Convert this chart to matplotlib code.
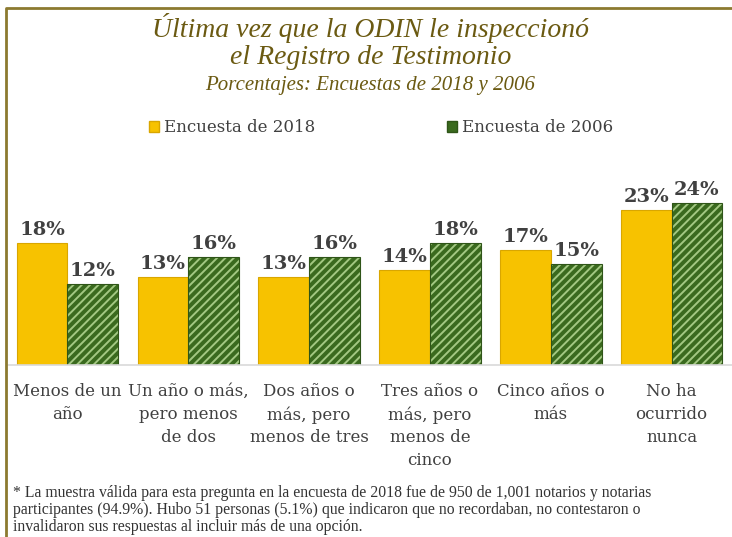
import numpy as np
import matplotlib
matplotlib.use("Agg")
import matplotlib.pyplot as plt
from matplotlib.lines import Line2D
from matplotlib.patches import Patch

categories = [
    "Menos de un\naño",
    "Un año o más,\npero menos\nde dos",
    "Dos años o\nmás, pero\nmenos de tres",
    "Tres años o\nmás, pero\nmenos de\ncinco",
    "Cinco años o\nmás",
    "No ha\nocurrido\nnunca",
]
enc_2018 = [18, 13, 13, 14, 17, 23]
enc_2006 = [12, 16, 16, 18, 15, 24]
series_names = ["Encuesta de 2018", "Encuesta de 2006"]

YELLOW = "#f7c200"
YELLOW_EDGE = "#d9a600"
GREEN = "#3a6a1e"
GREEN_LIGHT = "#a3c882"
TEXT = "#404040"
OLIVE = "#6b5a12"
FRAME = "#8c7a30"

plt.rcParams["hatch.linewidth"] = 1.4

fig = plt.figure(figsize=(7.32, 5.37), dpi=100)
ax = fig.add_axes([7 / 732, 172 / 537, 725 / 732, 200 / 537])

x = np.arange(len(categories))
w = 0.42

ax.bar(x - w / 2, enc_2018, w, color=YELLOW, edgecolor=YELLOW_EDGE, linewidth=0.8)
ax.bar(x + w / 2, enc_2006, w, color=GREEN, edgecolor=GREEN_LIGHT, linewidth=0, hatch="////")
ax.bar(x + w / 2, enc_2006, w, fill=False, edgecolor="#2f5518", linewidth=0.8)

for xi, v in zip(x - w / 2, enc_2018):
    ax.text(xi, v + 0.6, f"{v}%", ha="center", va="bottom", fontsize=14,
            fontweight="bold", color=TEXT, family="DejaVu Serif")
for xi, v in zip(x + w / 2, enc_2006):
    ax.text(xi, v + 0.6, f"{v}%", ha="center", va="bottom", fontsize=14,
            fontweight="bold", color=TEXT, family="DejaVu Serif")

ax.set_xlim(-0.5, len(categories) - 0.5)
ax.set_ylim(0, 29.6)
ax.set_xticks(x)
ax.set_xticklabels(categories, fontsize=12, color=TEXT, family="DejaVu Serif",
                   linespacing=1.45)
ax.tick_params(axis="x", length=0, pad=13)
ax.set_yticks([])
for s in ["top", "right", "left"]:
    ax.spines[s].set_visible(False)
ax.spines["bottom"].set_color("#d9d9d9")
ax.spines["bottom"].set_linewidth(1.2)

# titles
fig.text(0.506, 1 - 28 / 537, "Última vez que la ODIN le inspeccionó", ha="center",
         va="center", fontsize=20, style="italic", color=OLIVE, family="Liberation Serif")
fig.text(0.506, 1 - 58 / 537, "el Registro de Testimonio", ha="center",
         va="center", fontsize=20, style="italic", color=OLIVE, family="Liberation Serif")
fig.text(0.506, 1 - 86 / 537, "Porcentajes: Encuestas de 2018 y 2006", ha="center",
         va="center", fontsize=15, style="italic", color=OLIVE, family="Liberation Serif")

# legend
handles = [Patch(facecolor=YELLOW, edgecolor=YELLOW_EDGE),
           Patch(facecolor=GREEN, edgecolor="#2f5518")]
fig.legend(handles, series_names, loc="center", bbox_to_anchor=(0.52, 1 - 128 / 537),
           ncol=2, frameon=False, handlelength=0.6, handleheight=0.6, handletextpad=0.3,
           columnspacing=7.9, prop={"family": "DejaVu Serif", "size": 12},
           labelcolor=TEXT)

# footnote
note = ("* La muestra válida para esta pregunta en la encuesta de 2018 fue de 950 de 1,001 notarios y notarias\n"
        "participantes (94.9%). Hubo 51 personas (5.1%) que indicaron que no recordaban, no contestaron o\n"
        "invalidaron sus respuestas al incluir más de una opción.")
fig.text(13 / 732, 1 - 485 / 537, note, ha="left", va="top", fontsize=11.3,
         color="#333333", family="Liberation Serif", linespacing=1.1)

# frame lines (left and top)
fig.add_artist(Line2D([6 / 732, 6 / 732, 1.0], [0.0, 1 - 8 / 537, 1 - 8 / 537],
                      transform=fig.transFigure, color=FRAME, linewidth=2))

fig.savefig("out.png", dpi=100)
